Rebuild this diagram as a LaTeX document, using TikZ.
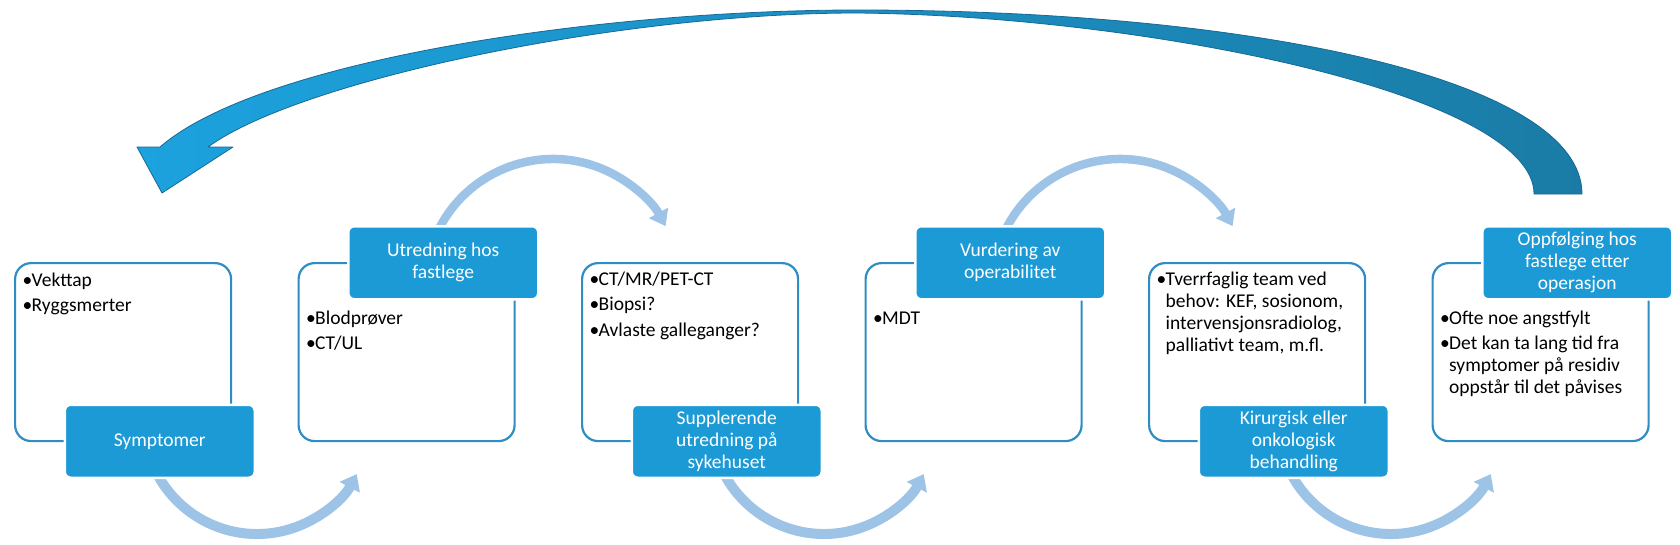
\documentclass[tikz,border=0pt]{standalone}
\usepackage{fontspec}
\setmainfont{Carlito}
\usetikzlibrary{arrows.meta}
\definecolor{hdr}{RGB}{28,154,214}
\definecolor{bord}{RGB}{47,141,196}
\definecolor{arcc}{RGB}{157,195,230}
\definecolor{bigL}{RGB}{28,162,222}
\definecolor{bigR}{RGB}{26,124,166}
\definecolor{bigE}{RGB}{24,105,150}
\newcommand{\mybul}{\makebox[9pt][l]{•}}
\newcommand{\myind}{\hspace*{9pt}}
\newcommand{\mystrut}{\rule{0pt}{16pt}}
\begin{document}
\begin{tikzpicture}[x=1pt,y=-1pt,
  txtbox/.style={draw=bord, line width=2.2pt, rounded corners=16pt, fill=white,
    minimum width=216pt, minimum height=178pt, anchor=north west, inner sep=0pt},
  hdrbox/.style={fill=hdr, draw=white, line width=2.5pt, rounded corners=6pt,
    minimum width=190pt, minimum height=73pt, inner sep=2pt, text=white,
    align=center, font=\fontsize{19.5}{22}\selectfont, anchor=north west},
  bodytxt/.style={anchor=north west, inner sep=0pt, align=left,
    font=\fontsize{19.5}{22}\selectfont},
  botarc/.style={draw=arcc, line width=10pt, -{Triangle[width=22pt,length=15pt]}},
  toparc/.style={draw=arcc, line width=8.5pt, -{Triangle[width=21pt,length=15pt]}},
  bigarrow/.style={left color=bigL, right color=bigR, draw=bigE, line width=0.8pt, line join=round}
]
\useasboundingbox (0,0) rectangle (1680,544);

% big return arrow
\path[bigarrow]
  (1582,194) .. controls (1582,80) and (1257,10) .. (857,10)
  .. controls (600,10) and (260,60) .. (160,147)
  -- (137,147) -- (162,193) -- (233,147) -- (208,147)
  .. controls (300,80) and (620,13) .. (857,13)
  .. controls (1150,16) and (1534,95) .. (1534,194)
  -- cycle;

% white boxes
\node[txtbox] (b1) at (14,262) {};
\node[txtbox] (b2) at (297.5,262) {};
\node[txtbox] (b3) at (581,262) {};
\node[txtbox] (b4) at (864.5,262) {};
\node[txtbox] (b5) at (1148,262) {};
\node[txtbox] (b6) at (1431.5,262) {};

% small arcs
\coordinate (c1) at (257,421);
\coordinate (c2) at (824,421);
\coordinate (c3) at (1391,421);
\coordinate (u1) at (553,287);
\coordinate (u2) at (1120,287);
\draw[botarc] (c1) ++(160:113) arc[start angle=160, end angle=28, radius=113];
\draw[botarc] (c2) ++(160:113) arc[start angle=160, end angle=28, radius=113];
\draw[botarc] (c3) ++(160:113) arc[start angle=160, end angle=28, radius=113];
\draw[toparc] (u1) ++(205:128) arc[start angle=205, end angle=331.6, radius=128];
\draw[toparc] (u2) ++(205:128) arc[start angle=205, end angle=331.6, radius=128];

% body texts
\node[bodytxt] (t1) at (22.5,270) {\mystrut\mybul Vekttap\\[3.5pt]\mybul Ryggsmerter};
\node[bodytxt] (t2) at (306,308) {\mystrut\mybul Blodprøver\\[3.5pt]\mybul CT/UL};
\node[bodytxt] (t3) at (589.5,269) {\mystrut\mybul CT/MR/PET-CT\\[3.5pt]\mybul Biopsi?\\[3.5pt]\mybul Avlaste galleganger?};
\node[bodytxt] (t4) at (873,308) {\mystrut\mybul MDT};
\node[bodytxt] (t5) at (1156.5,269) {\mystrut\mybul Tverrfaglig team ved\\\myind behov: KEF, sosionom,\\\myind intervensjonsradiolog,\\\myind palliativt team, m.fl.};
\node[bodytxt] (t6) at (1440,308) {\mystrut\mybul Ofte noe angstfylt\\[3.5pt]\mybul Det kan ta lang tid fra\\\myind symptomer på residiv\\\myind oppstår til det påvises};

% headers
\node[hdrbox] (h1) at (63.5,403.5) {Symptomer};
\node[hdrbox] (h2) at (347,225) {Utredning hos\\fastlege};
\node[hdrbox] (h3) at (630.5,403.5) {Supplerende\\utredning på\\sykehuset};
\node[hdrbox] (h4) at (914,225) {Vurdering av\\operabilitet};
\node[hdrbox] (h5) at (1197.5,403.5) {Kirurgisk eller\\onkologisk\\behandling};
\node[hdrbox] (h6) at (1481,225) {Oppfølging hos\\fastlege etter\\operasjon};
\end{tikzpicture}
\end{document}
